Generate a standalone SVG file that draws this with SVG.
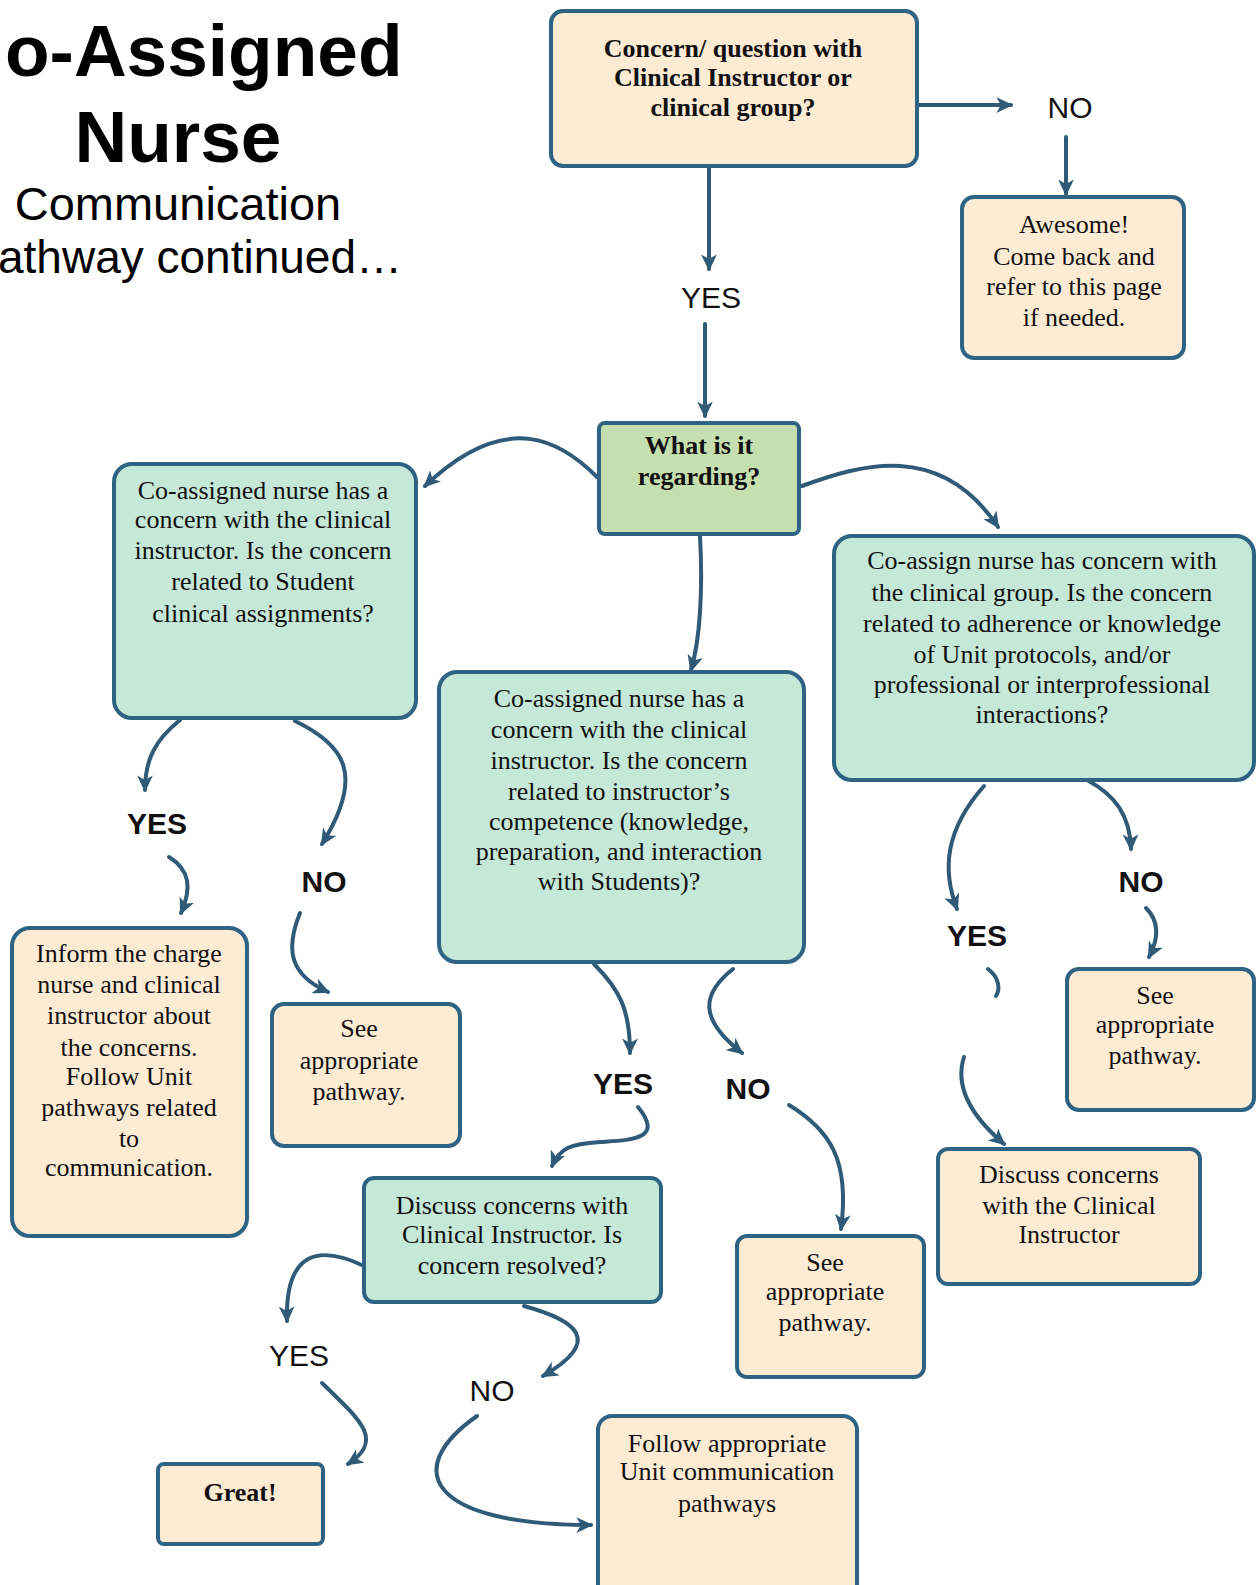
<svg xmlns="http://www.w3.org/2000/svg" width="1259" height="1585" viewBox="0 0 1259 1585">
<defs>
<marker id="ah" markerUnits="userSpaceOnUse" markerWidth="18" markerHeight="18" viewBox="0 0 16 16" refX="13" refY="8" orient="auto">
<path d="M0,1 L15,8 L0,15 L4,8 Z" fill="#2f5b78"/>
</marker>
<style>
.box{stroke:#2f6384;stroke-width:4}
.beige{fill:#fdebd4}
.teal{fill:#c5e8d8}
.green{fill:#c5dfae}
.t{font-family:"Liberation Serif","Times New Roman",serif;font-size:26px;fill:#111;text-anchor:middle}
.b{font-weight:bold}
.lbl{font-family:"Liberation Sans",Arial,sans-serif;font-size:30px;fill:#111;text-anchor:middle}
.lb{font-weight:bold}
.title{font-family:"Liberation Sans",Arial,sans-serif;fill:#000}
.c{fill:none;stroke:#2f5b78;stroke-width:4;stroke-linecap:round}
</style>
</defs>
<rect width="1259" height="1585" fill="#fff"/>

<g id="title">
<text class="title" x="5" y="76" font-size="73" font-weight="bold">o-Assigned</text>
<text class="title" x="178" y="162" font-size="73" font-weight="bold" text-anchor="middle">Nurse</text>
<text class="title" x="178" y="220" font-size="47" text-anchor="middle">Communication</text>
<text class="title" x="-2" y="273" font-size="46">athway continued…</text>
</g>

<g id="connectors">
<path class="c" d="M917 105 L1011 105" marker-end="url(#ah)"/>
<path class="c" d="M1066 137 L1066 194" marker-end="url(#ah)"/>
<path class="c" d="M709 166 L709 269" marker-end="url(#ah)"/>
<path class="c" d="M705 324 L705 416" marker-end="url(#ah)"/>
<path class="c" d="M597 477 C565 445 510 405 425 486" marker-end="url(#ah)"/>
<path class="c" d="M802 486 C860 465 940 440 998 527" marker-end="url(#ah)"/>
<path class="c" d="M700 536 C703 590 700 640 691 670" marker-end="url(#ah)"/>
<path class="c" d="M180 720 C155 740 145 760 145 790" marker-end="url(#ah)"/>
<path class="c" d="M169 857 C190 870 192 888 181 913" marker-end="url(#ah)"/>
<path class="c" d="M295 721 C345 745 365 775 322 844" marker-end="url(#ah)"/>
<path class="c" d="M300 913 C285 950 290 975 328 992" marker-end="url(#ah)"/>
<path class="c" d="M594 964 C620 990 630 1010 630 1053" marker-end="url(#ah)"/>
<path class="c" d="M638 1107 C665 1140 630 1140 600 1142 S560 1148 552 1166" marker-end="url(#ah)"/>
<path class="c" d="M733 969 C700 995 700 1020 742 1053" marker-end="url(#ah)"/>
<path class="c" d="M789 1105 C830 1130 850 1160 841 1229" marker-end="url(#ah)"/>
<path class="c" d="M984 786 C945 830 942 870 957 909" marker-end="url(#ah)"/>
<path class="c" d="M988 969 C1000 978 1000 990 996 996"/>
<path class="c" d="M964 1057 C955 1085 970 1115 1004 1144" marker-end="url(#ah)"/>
<path class="c" d="M1087 780 C1115 795 1130 815 1131 849" marker-end="url(#ah)"/>
<path class="c" d="M1146 908 C1160 922 1158 940 1149 957" marker-end="url(#ah)"/>
<path class="c" d="M364 1266 C320 1245 285 1250 287 1321" marker-end="url(#ah)"/>
<path class="c" d="M322 1383 C360 1420 385 1440 348 1464" marker-end="url(#ah)"/>
<path class="c" d="M524 1306 C575 1320 605 1340 543 1376" marker-end="url(#ah)"/>
<path class="c" d="M477 1416 C400 1470 430 1525 591 1525" marker-end="url(#ah)"/>
</g>

<g id="labels">
<text class="lbl" x="1070" y="118">NO</text>
<text class="lbl" x="711" y="308">YES</text>
<text class="lbl lb" x="157" y="834">YES</text>
<text class="lbl lb" x="324" y="892">NO</text>
<text class="lbl lb" x="623" y="1094">YES</text>
<text class="lbl lb" x="748" y="1099">NO</text>
<text class="lbl lb" x="977" y="946">YES</text>
<text class="lbl lb" x="1141" y="892">NO</text>
<text class="lbl" x="299" y="1366">YES</text>
<text class="lbl" x="492" y="1401">NO</text>
</g>

<g id="n-start">
<rect class="box beige" x="551" y="11" width="366" height="155" rx="12"/>
<text class="t b" x="733" y="57">Concern/ question with</text>
<text class="t b" x="733" y="86">Clinical Instructor or</text>
<text class="t b" x="733" y="116">clinical group?</text>
</g>

<g id="n-awesome">
<rect class="box beige" x="962" y="197" width="222" height="161" rx="12"/>
<text class="t" x="1074" y="233">Awesome!</text>
<text class="t" x="1074" y="265">Come back and</text>
<text class="t" x="1074" y="295">refer to this page</text>
<text class="t" x="1074" y="326">if needed.</text>
</g>

<g id="n-what">
<rect class="box green" x="599" y="423" width="200" height="111" rx="6"/>
<text class="t b" x="699" y="454">What is it</text>
<text class="t b" x="699" y="485">regarding?</text>
</g>

<g id="n-left">
<rect class="box teal" x="114" y="464" width="302" height="254" rx="18"/>
<text class="t" x="263" y="499">Co-assigned nurse has a</text>
<text class="t" x="263" y="528">concern with the clinical</text>
<text class="t" x="263" y="559">instructor. Is the concern</text>
<text class="t" x="263" y="590">related to Student</text>
<text class="t" x="263" y="622">clinical assignments?</text>
</g>

<g id="n-middle">
<rect class="box teal" x="439" y="672" width="365" height="290" rx="18"/>
<text class="t" x="619" y="707">Co-assigned nurse has a</text>
<text class="t" x="619" y="738">concern with the clinical</text>
<text class="t" x="619" y="769">instructor. Is the concern</text>
<text class="t" x="619" y="800">related to instructor’s</text>
<text class="t" x="619" y="830">competence (knowledge,</text>
<text class="t" x="619" y="860">preparation, and interaction</text>
<text class="t" x="619" y="890">with Students)?</text>
</g>

<g id="n-right">
<rect class="box teal" x="834" y="536" width="420" height="244" rx="18"/>
<text class="t" x="1042" y="569">Co-assign nurse has concern with</text>
<text class="t" x="1042" y="601">the clinical group. Is the concern</text>
<text class="t" x="1042" y="632">related to adherence or knowledge</text>
<text class="t" x="1042" y="663">of Unit protocols, and/or</text>
<text class="t" x="1042" y="693">professional or interprofessional</text>
<text class="t" x="1042" y="723">interactions?</text>
</g>

<g id="n-inform">
<rect class="box beige" x="12" y="928" width="235" height="308" rx="18"/>
<text class="t" x="129" y="962">Inform the charge</text>
<text class="t" x="129" y="993">nurse and clinical</text>
<text class="t" x="129" y="1024">instructor about</text>
<text class="t" x="129" y="1056">the concerns.</text>
<text class="t" x="129" y="1085">Follow Unit</text>
<text class="t" x="129" y="1116">pathways related</text>
<text class="t" x="129" y="1147">to</text>
<text class="t" x="129" y="1176">communication.</text>
</g>

<g id="n-see-left">
<rect class="box beige" x="272" y="1004" width="188" height="142" rx="12"/>
<text class="t" x="359" y="1037">See</text>
<text class="t" x="359" y="1069">appropriate</text>
<text class="t" x="359" y="1100">pathway.</text>
</g>

<g id="n-see-right">
<rect class="box beige" x="1067" y="969" width="187" height="141" rx="12"/>
<text class="t" x="1155" y="1004">See</text>
<text class="t" x="1155" y="1033">appropriate</text>
<text class="t" x="1155" y="1064">pathway.</text>
</g>

<g id="n-discuss-right">
<rect class="box beige" x="938" y="1149" width="262" height="135" rx="10"/>
<text class="t" x="1069" y="1183">Discuss concerns</text>
<text class="t" x="1069" y="1214">with the Clinical</text>
<text class="t" x="1069" y="1243">Instructor</text>
</g>

<g id="n-discuss">
<rect class="box teal" x="364" y="1178" width="297" height="124" rx="10"/>
<text class="t" x="512" y="1214">Discuss concerns with</text>
<text class="t" x="512" y="1243">Clinical Instructor. Is</text>
<text class="t" x="512" y="1274">concern resolved?</text>
</g>

<g id="n-see-mid">
<rect class="box beige" x="737" y="1236" width="187" height="141" rx="10"/>
<text class="t" x="825" y="1271">See</text>
<text class="t" x="825" y="1300">appropriate</text>
<text class="t" x="825" y="1331">pathway.</text>
</g>

<g id="n-great">
<rect class="box beige" x="158" y="1464" width="165" height="80" rx="6"/>
<text class="t b" x="240" y="1501">Great!</text>
</g>

<g id="n-follow">
<rect class="box beige" x="598" y="1416" width="259" height="185" rx="14"/>
<text class="t" x="727" y="1452">Follow appropriate</text>
<text class="t" x="727" y="1480">Unit communication</text>
<text class="t" x="727" y="1512">pathways</text>
</g>
</svg>
